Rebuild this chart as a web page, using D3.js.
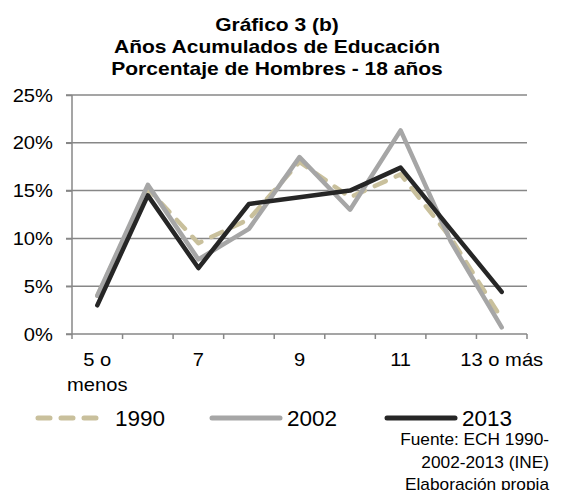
<!DOCTYPE html>
<html><head><meta charset="utf-8">
<script src="https://cdn.jsdelivr.net/npm/d3@7"></script>
<style>
html,body{margin:0;padding:0;background:#fff;}
svg{display:block;font-family:"Liberation Sans",Arial,sans-serif;}
</style></head>
<body>
<svg id="chart" width="561" height="490"></svg>
<script>
const categories = ["5 o menos","6","7","8","9","10","11","12","13 o más"];
const tickLabels = [["5 o","menos"],[],["7"],[],["9"],[],["11"],[],["13 o más"]];
const series1990 = [4.0, 15.2, 9.5, 12.0, 18.0, 14.3, 16.7, 10.0, 1.6];
const series2002 = [4.0, 15.6, 7.8, 11.0, 18.5, 13.0, 21.3, 9.6, 0.7];
const series2013 = [3.0, 14.5, 6.9, 13.6, 14.3, 15.0, 17.4, 10.9, 4.4];
const yTicks = [0, 5, 10, 15, 20, 25];
const titleLines = ["Gráfico 3 (b)", "Años Acumulados de Educación", "Porcentaje de Hombres - 18 años"];
const sourceLines = ["Fuente: ECH 1990-", "2002-2013 (INE)", "Elaboración propia"];

(function () {
const svg = d3.select("#chart");
const pl = 72, pr = 527, pt = 95, pb = 334;

const x = d3.scaleBand().domain(categories).range([pl, pr]).padding(0);
const y = d3.scaleLinear().domain([0, 25]).range([pb, pt]);
const gridColor = "#878787";

// helper: text stretched horizontally around its anchor
function stext(g, tx, ty, str, size, sx, anchor, weight) {
  return g.append("text")
    .attr("transform", `translate(${tx},${ty}) scale(${sx},1)`)
    .attr("text-anchor", anchor || "start")
    .attr("font-size", size)
    .attr("font-weight", weight || "normal")
    .attr("fill", "#000")
    .text(str);
}

// title
const title = svg.append("g");
stext(title, 277, 30.5, titleLines[0], 18.6, 1.13, "middle", "bold");
stext(title, 277, 53, titleLines[1], 18.6, 1.13, "middle", "bold");
stext(title, 277, 75, titleLines[2], 18.6, 1.13, "middle", "bold");

// gridlines
svg.append("g").selectAll("line").data(yTicks.filter(d => d > 0)).join("line")
  .attr("x1", pl - 6).attr("x2", pr)
  .attr("y1", d => y(d)).attr("y2", d => y(d))
  .attr("stroke", gridColor).attr("stroke-width", 1.5);

// y axis
const yAxis = svg.append("g").attr("transform", `translate(${pl},0)`)
  .call(d3.axisLeft(y).tickValues(yTicks).tickFormat(d => d + "%").tickSize(6));
yAxis.select(".domain").attr("stroke", gridColor).attr("stroke-width", 1.5).attr("d", `M0,${pt}V${pb}`);
yAxis.selectAll(".tick line").attr("stroke", gridColor).attr("stroke-width", 1.5);
yAxis.selectAll(".tick text").remove();
yAxis.selectAll(".tick").each(function (d) {
  stext(d3.select(this), -19, 6, d + "%", 18, 1.12, "end");
});

// x axis
const xAxis = svg.append("g").attr("transform", `translate(0,${pb})`)
  .call(d3.axisBottom(x).tickSize(0).tickFormat(""));
xAxis.select(".domain").attr("stroke", gridColor).attr("stroke-width", 1.5).attr("d", `M${pl - 6},0H${pr}`);
const boundaries = categories.map(c => x(c)).concat([x(categories[categories.length - 1]) + x.bandwidth()]);
xAxis.append("g").selectAll("line").data(boundaries).join("line")
  .attr("x1", d => d).attr("x2", d => d).attr("y1", 0).attr("y2", 5)
  .attr("stroke", gridColor).attr("stroke-width", 1.5);
const lbl = xAxis.append("g");
categories.forEach((c, i) => {
  tickLabels[i].forEach((t, j) => {
    stext(lbl, x(c) + x.bandwidth() / 2, 32 + j * 25, t, 18, 1.12, "middle");
  });
});

// lines
const line = d3.line().x((d, i) => x(categories[i]) + x.bandwidth() / 2).y(d => y(d));
const seriesDefs = [
  {name: "1990", data: series1990, color: "#c9c09c", dash: "12,11"},
  {name: "2002", data: series2002, color: "#a6a6a6", dash: null},
  {name: "2013", data: series2013, color: "#262626", dash: null}
];
seriesDefs.forEach(s => {
  svg.append("path").datum(s.data).attr("d", line)
    .attr("fill", "none").attr("stroke", s.color).attr("stroke-width", 4.5)
    .attr("stroke-linejoin", "round").attr("stroke-linecap", "round")
    .attr("stroke-dasharray", s.dash);
});

// legend
const legendPos = [{x1: 38, x2: 96, tx: 115}, {x1: 212, x2: 280, tx: 287}, {x1: 387, x2: 455, tx: 462}];
const lg = svg.append("g");
seriesDefs.forEach((s, i) => {
  const p = legendPos[i];
  lg.append("line").attr("x1", p.x1).attr("x2", p.x2).attr("y1", 418).attr("y2", 418)
    .attr("stroke", s.color).attr("stroke-width", 5).attr("stroke-linecap", "round")
    .attr("stroke-dasharray", s.dash);
  stext(lg, p.tx, 426, s.name, 22.5, 1.0, "start");
});

// source
const src = svg.append("g");
sourceLines.forEach((t, i) => stext(src, 549, 445 + i * 22.5, t, 16, 1.08, "end"));
})();
</script>
</body></html>
